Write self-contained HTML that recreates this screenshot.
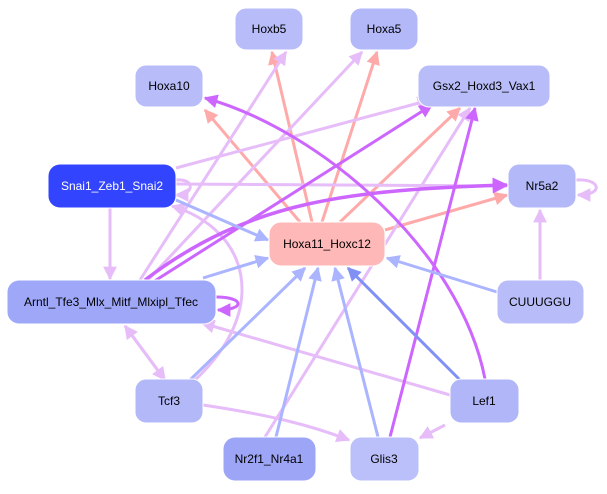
<!DOCTYPE html>
<html><head><style>
body{margin:0;background:#fff;width:607px;height:489px;overflow:hidden}
text{font-family:"Liberation Sans",sans-serif;font-size:12px;text-anchor:middle;dominant-baseline:central}
</style></head><body>
<svg width="607" height="489" viewBox="0 0 607 489" xmlns="http://www.w3.org/2000/svg">
<defs>
<marker id="aS" viewBox="0 0 10 10" refX="9" refY="5" markerWidth="4.6" markerHeight="4.6" orient="auto"><path d="M0,0L10,5L0,10z" fill="#ffaaaa"/></marker>
<marker id="aL" viewBox="0 0 10 10" refX="9" refY="5" markerWidth="4.6" markerHeight="4.6" orient="auto"><path d="M0,0L10,5L0,10z" fill="#e6bdf8"/></marker>
<marker id="aP" viewBox="0 0 10 10" refX="9" refY="5" markerWidth="4.6" markerHeight="4.6" orient="auto"><path d="M0,0L10,5L0,10z" fill="#cc66ff"/></marker>
<marker id="aB" viewBox="0 0 10 10" refX="9" refY="5" markerWidth="4.6" markerHeight="4.6" orient="auto"><path d="M0,0L10,5L0,10z" fill="#aab4ff"/></marker>
<marker id="aD" viewBox="0 0 10 10" refX="9" refY="5" markerWidth="4.6" markerHeight="4.6" orient="auto"><path d="M0,0L10,5L0,10z" fill="#8090f5"/></marker>
</defs>
<g fill="none" stroke-width="3">
<g stroke="#ffaaaa" marker-end="url(#aS)">
<path d="M300,222L205,110"/>
<path d="M312,222L272,52"/>
<path d="M322,222L377,52"/>
<path d="M340,222L460,108"/>
<path d="M385,230L507,195"/>
</g>
<g stroke="#e6bdf8" marker-end="url(#aL)">
<path d="M176,168L430,100"/>
<path d="M176,184L507,186"/>
<path d="M176,180C195,178 195,195 176,195"/>
<path d="M110,208L110,279"/>
<path d="M195,380C270,310 250,230 172,206"/>
<path d="M140,280L286,52"/>
<path d="M148,280L362,52"/>
<path d="M203,405C270,415 310,425 349,440"/>
<path d="M450,395L202,323"/>
<path d="M445,425L420,438"/>
<path d="M265,437L470,108"/>
<path d="M165,380L125,326"/>
<path d="M125,326L165,380"/>
<path d="M540,280L540,210"/>
<path d="M576,180C600,178 605,195 578,195"/>
</g>
<g stroke="#cc66ff" marker-end="url(#aP)">
<path d="M145,280C250,200 350,190 507,185" stroke-width="3.5"/>
<path d="M153,282L432,105"/>
<path d="M485,379C460,250 320,130 205,98"/>
<path d="M390,437L475,108"/>
<path d="M216,297C245,297 245,310 218,310"/>
</g>
<g stroke="#aab4ff" marker-end="url(#aB)">
<path d="M176,200L268,240"/>
<path d="M203,278L268,258"/>
<path d="M190,380L305,268"/>
<path d="M276,437L318,268"/>
<path d="M378,437L335,268"/>
<path d="M497,292L387,258"/>
</g>
<path d="M460,380L348,268" stroke="#8090f5" marker-end="url(#aD)"/>
</g>
<g stroke="#fff" stroke-width="1">
<rect x="235" y="8" width="68" height="42" rx="11" fill="#b8bdf9"/>
<rect x="350" y="8" width="68" height="42" rx="11" fill="#b3b8f8"/>
<rect x="135" y="65" width="68" height="42" rx="11" fill="#b8bdf9"/>
<rect x="418" y="65" width="132" height="42" rx="11" fill="#b8bdf9"/>
<rect x="48" y="164" width="128" height="44" rx="12" fill="#3344ff"/>
<rect x="508" y="164" width="68" height="44" rx="11" fill="#b3b8f8"/>
<rect x="269" y="222" width="116" height="44" rx="12" fill="#ffb8b8"/>
<rect x="7" y="280" width="209" height="44" rx="12" fill="#9fa8f8"/>
<rect x="497" y="280" width="87" height="44" rx="11" fill="#b8bdf9"/>
<rect x="135" y="379" width="68" height="44" rx="11" fill="#b3b8f8"/>
<rect x="450" y="379" width="69" height="44" rx="11" fill="#b0b6f8"/>
<rect x="223" y="437" width="93" height="44" rx="12" fill="#9da5f6"/>
<rect x="350" y="437" width="69" height="44" rx="11" fill="#bbc0fa"/>
</g>
<text x="269" y="29">Hoxb5</text>
<text x="384" y="29">Hoxa5</text>
<text x="169" y="86">Hoxa10</text>
<text x="484" y="86">Gsx2_Hoxd3_Vax1</text>
<text x="112" y="186" fill="#fff">Snai1_Zeb1_Snai2</text>
<text x="542" y="186">Nr5a2</text>
<text x="327" y="244">Hoxa11_Hoxc12</text>
<text x="111" y="302">Arntl_Tfe3_Mlx_Mitf_Mlxipl_Tfec</text>
<text x="540" y="302">CUUUGGU</text>
<text x="169" y="401">Tcf3</text>
<text x="484" y="401">Lef1</text>
<text x="269" y="459">Nr2f1_Nr4a1</text>
<text x="384" y="459">Glis3</text>
</svg>
</body></html>
